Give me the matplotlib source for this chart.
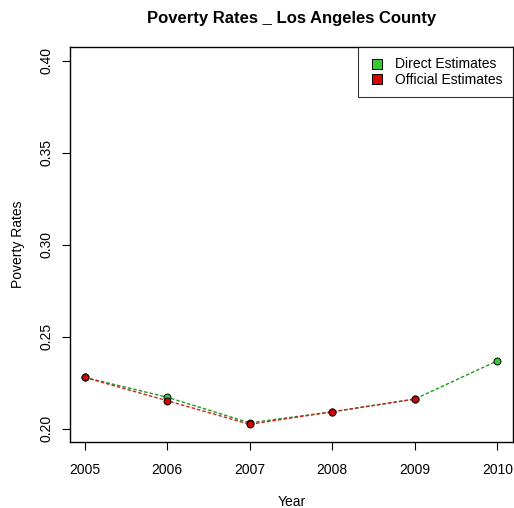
import matplotlib
matplotlib.use('Agg')
import matplotlib.pyplot as plt
from matplotlib.lines import Line2D

plt.rcParams['font.family'] = ['Liberation Sans', 'DejaVu Sans']

years_direct = [2005, 2006, 2007, 2008, 2009, 2010]
direct = [0.228, 0.2172, 0.2033, 0.2093, 0.2162, 0.237]
years_official = [2005, 2006, 2007, 2008, 2009]
official = [0.228, 0.2153, 0.2025, 0.2093, 0.2162]

fig = plt.figure(figsize=(5.14, 5.08), dpi=100)
ax = fig.add_axes([0.136, 0.13, 0.862, 0.7775])

ax.plot(years_direct, direct, color='#1a9a1a', linestyle=(0, (2.5, 1.5)), linewidth=1,
        marker='o', markersize=5, markerfacecolor='#33cc33', markeredgecolor='black',
        markeredgewidth=0.7)
ax.plot(years_official, official, color='#cc2222', linestyle=(0, (2.5, 1.5)), linewidth=1,
        marker='o', markersize=5, markerfacecolor='#dd0000', markeredgecolor='black',
        markeredgewidth=0.7)

ax.set_xlim(2004.82, 2010.19)
ax.set_ylim(0.1929, 0.4076)
ax.set_xticks(years_direct)
ax.set_yticks([0.20, 0.25, 0.30, 0.35, 0.40])
ax.set_yticklabels(['0.20', '0.25', '0.30', '0.35', '0.40'], rotation=90, va='center')
ax.tick_params(labelsize=10, length=6, width=0.8)
ax.tick_params(axis='x', pad=9)
ax.tick_params(axis='y', pad=6)
for s in ax.spines.values():
    s.set_linewidth(1)

ax.set_xlabel('Year', fontsize=10, labelpad=13)
ax.set_ylabel('Poverty Rates', fontsize=10, labelpad=10)
ax.set_title('Poverty Rates _ Los Angeles County', fontsize=12, fontweight='bold', pad=17)

handles = [Line2D([], [], linestyle='none', marker='s', markersize=7,
                  markerfacecolor='#33cc33', markeredgecolor='black', markeredgewidth=0.7),
           Line2D([], [], linestyle='none', marker='s', markersize=7,
                  markerfacecolor='#dd0000', markeredgecolor='black', markeredgewidth=0.7)]
leg = ax.legend(handles, ['Direct Estimates', 'Official Estimates'], loc='upper right',
                fontsize=10, frameon=True, fancybox=False, borderaxespad=0,
                handletextpad=0.7, labelspacing=0.1, handlelength=1.2,
                borderpad=0.75)
leg.get_frame().set_edgecolor('black')
leg.get_frame().set_linewidth(0.8)

fig.savefig('out.png', dpi=100)
